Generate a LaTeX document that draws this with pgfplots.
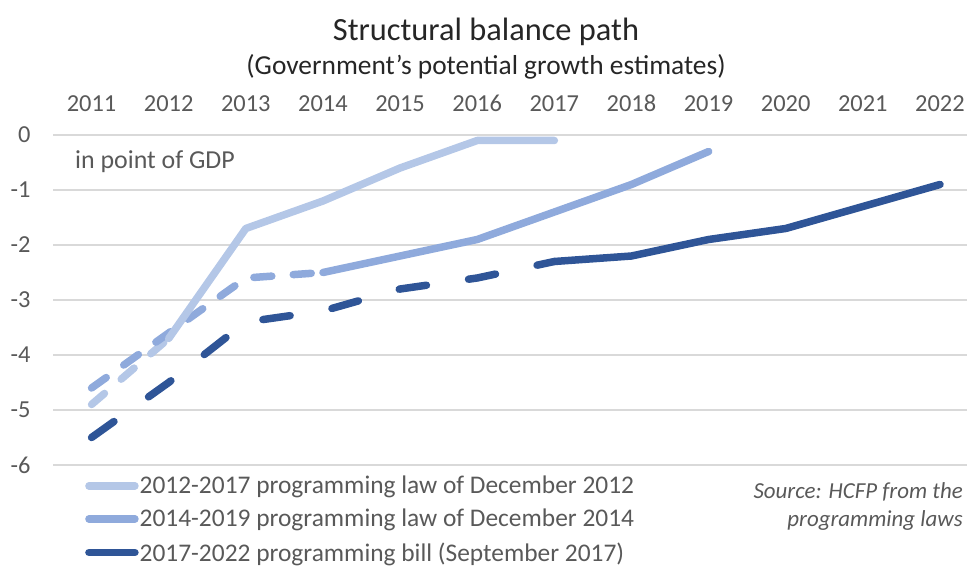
\documentclass[border=0pt]{standalone}
\usepackage{pgfplots}
\pgfplotsset{compat=1.18}
\usepackage{fontspec}
\setmainfont{Carlito}
\definecolor{cLight}{HTML}{B4C7E7}
\definecolor{cMid}{HTML}{8FAADC}
\definecolor{cDark}{HTML}{2F5597}
\definecolor{cGrid}{HTML}{D9D9D9}
\definecolor{cText}{HTML}{595959}
\definecolor{cTitle}{HTML}{262626}
\begin{document}
\begin{tikzpicture}[x=1bp,y=1bp]
\path[use as bounding box] (0,0) rectangle (967,566);
\begin{axis}[
  at={(53bp,101bp)}, anchor=south west,
  scale only axis, width=914bp, height=330bp,
  xmin=2010.5, xmax=2022.35, ymin=-6, ymax=0,
  clip=false,
  axis line style={draw=none},
  major tick length=0pt,
  xtick={2011,...,2022},
  xticklabel pos=upper,
  ytick={-6,...,0},
  ymajorgrids, grid style={cGrid, line width=1.6bp},
  /pgf/number format/assume math mode=true,
  /pgf/number format/1000 sep={},
  xticklabel style={font=\fontsize{24.5}{28}\selectfont, text=cText, yshift=20bp},
  yticklabel style={font=\fontsize{24.5}{28}\selectfont, text=cText, xshift=-19bp},
  legend style={at={(32bp,-10bp)}, anchor=north west, draw=none, fill=none,
    font=\fontsize{25.5}{30}\selectfont, text=cText, row sep=12bp,
    legend cell align=left, inner sep=0pt,
    nodes={inner sep=1bp}},
  legend image code/.code={\draw[#1, line cap=round, dash pattern=] (0bp,0bp) -- (46bp,0bp);},
  every axis plot/.append style={line width=7.5bp, line join=round},
]
% dashed parts
\addplot[cLight, line cap=round, dash pattern=on 17bp off 22bp, forget plot] coordinates {(2011,-4.9) (2012,-3.7)};
\addplot[cMid, line cap=round, dash pattern=on 18bp off 21.5bp, forget plot] coordinates {(2011,-4.6) (2012,-3.6) (2013,-2.6) (2014,-2.5)};
\addplot[cDark, line cap=round, dash pattern=on 27.5bp off 42.5bp, forget plot] coordinates {(2011,-5.5) (2012,-4.5) (2013,-3.4) (2014,-3.2) (2015,-2.8) (2016,-2.6) (2017,-2.3)};
% solid parts
\addplot[cLight, line cap=round] coordinates {(2012,-3.7) (2013,-1.7) (2014,-1.2) (2015,-0.6) (2016,-0.1) (2017,-0.1)};
\addlegendentry{2012-2017 programming law of December 2012}
\addplot[cMid, line cap=round] coordinates {(2014,-2.5) (2015,-2.2) (2016,-1.9) (2017,-1.4) (2018,-0.9) (2019,-0.3)};
\addlegendentry{2014-2019 programming law of December 2014}
\addplot[cDark, line cap=round] coordinates {(2017,-2.3) (2018,-2.2) (2019,-1.9) (2020,-1.7) (2021,-1.3) (2022,-0.9)};
\addlegendentry{2017-2022 programming bill (September 2017)}
\end{axis}
\node[anchor=base west, text=cText, font=\fontsize{26}{30}\selectfont, inner sep=0pt] at (75,397) {in point of GDP};
\node[font=\fontsize{32.5}{36}\selectfont, text=cTitle] at (486,534) {Structural balance path};
\node[font=\fontsize{27.5}{32}\selectfont, text=cTitle] at (486,499) {(Government's potential growth estimates)};
\node[anchor=base east, text=cText, font=\fontsize{23}{27}\selectfont\itshape, inner sep=0pt] at (963,67) {Source: HCFP from the};
\node[anchor=base east, text=cText, font=\fontsize{23}{27}\selectfont\itshape, inner sep=0pt] at (963,39) {programming laws};
\end{tikzpicture}
\end{document}
